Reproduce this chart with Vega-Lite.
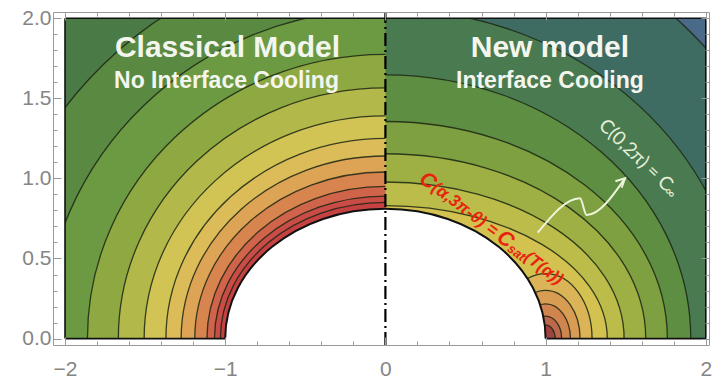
{
  "$schema": "https://vega.github.io/schema/vega-lite/v6.json",
  "width": 656,
  "height": 333,
  "autosize": {"type": "none"},
  "padding": {"left": 53, "top": 12, "right": 7, "bottom": 38},
  "background": "white",
  "config": {"view": {"stroke": null}},
  "datasets": {
    "regions": [
      {"band": "outer-left", "x": -2, "x2": 0, "y": 0, "y2": 2},
      {"band": "outer-right", "x": 0, "x2": 2, "y": 0, "y2": 2}
    ],
    "contours": [
      {"band": "right7", "cx": 0, "a": 2.7, "b": 2.7},
      {"band": "right6", "cx": 0, "a": 2.238, "b": 2.056},
      {"band": "right5", "cx": 0, "a": 1.906, "b": 1.646},
      {"band": "right4", "cx": 0, "a": 1.76, "b": 1.356},
      {"band": "right3", "cx": 0, "a": 1.625, "b": 1.153},
      {"band": "right2", "cx": 0, "a": 1.49, "b": 0.977},
      {"band": "right1", "cx": 0, "a": 1.385, "b": 0.83},
      {"band": "loop1", "cx": 1, "a": 0.29, "b": 0.406},
      {"band": "loop2", "cx": 1, "a": 0.215, "b": 0.301},
      {"band": "loop3", "cx": 1, "a": 0.155, "b": 0.217},
      {"band": "loop4", "cx": 1, "a": 0.1, "b": 0.14},
      {"band": "loop5", "cx": 1, "a": 0.06, "b": 0.084},
      {"band": "left11", "cx": 0, "a": 2.49, "b": 2.42},
      {"band": "left10", "cx": 0, "a": 2.135, "b": 2.055},
      {"band": "left9", "cx": 0, "a": 1.86, "b": 1.775},
      {"band": "left8", "cx": 0, "a": 1.667, "b": 1.565},
      {"band": "left7", "cx": 0, "a": 1.506, "b": 1.39},
      {"band": "left6", "cx": 0, "a": 1.37, "b": 1.25},
      {"band": "left5", "cx": 0, "a": 1.275, "b": 1.14},
      {"band": "left4", "cx": 0, "a": 1.19, "b": 1.04},
      {"band": "left3", "cx": 0, "a": 1.114, "b": 0.95},
      {"band": "left2", "cx": 0, "a": 1.067, "b": 0.89},
      {"band": "left1", "cx": 0, "a": 1.03, "b": 0.85}
    ],
    "hole": [{"cx": 0, "a": 1, "b": 0.81}],
    "margins": [
      {"x": -2.075, "x2": -2, "y": -0.04, "y2": 2.0387},
      {"x": -2.075, "x2": 2.02, "y": 2, "y2": 2.0387},
      {"x": 2, "x2": 2.02, "y": -0.04, "y2": 2.0387}
    ],
    "border": [
      {"x": -2, "y": 0, "x2": -2, "y2": 2},
      {"x": -2, "y": 2, "x2": 2, "y2": 2},
      {"x": 2, "y": 2, "x2": 2, "y2": 0},
      {"x": -2, "y": 0, "x2": -1, "y2": 0},
      {"x": 1, "y": 0, "x2": 2, "y2": 0}
    ],
    "symmetry": [{"x": 0, "y": -0.04, "x2": 0, "y2": 2.0387}],
    "arrow": [
      {"x": 0.9507, "y": 0.661},
      {"x": 1.2147, "y": 0.8758},
      {"x": 1.2566, "y": 0.7715},
      {"x": 1.4956, "y": 1.0006}
    ],
    "arrowhead": [{"x": 1.4956, "y": 1.0006}],
    "titles": [
      {"label": "Classical Model", "x": -0.986, "y": 1.76},
      {"label": "New model", "x": 1.027, "y": 1.76}
    ],
    "subtitles": [
      {"label": "No Interface Cooling", "x": -0.992, "y": 1.567},
      {"label": "Interface Cooling", "x": 1.027, "y": 1.567}
    ],
    "bcBig": [
      {"label": "C", "x": 0.2266, "y": 1.012},
      {"label": "C", "x": 0.7104, "y": 0.647}
    ],
    "bcText": [
      {"label": "(α,3π-θ) = ", "x": 0.3021, "y": 0.954},
      {"label": "(T(α))", "x": 0.8795, "y": 0.52}
    ],
    "bcSub": [{"label": "sat", "x": 0.7709, "y": 0.571}],
    "farText": [{"label": "C(0,2π) = C", "x": 1.352, "y": 1.35}],
    "farSub": [{"label": "∞", "x": 1.752, "y": 0.932}]
  },
  "layer": [
    {
      "data": {"name": "regions"},
      "mark": {"type": "rect"},
      "encoding": {
        "x": {
          "field": "x", "type": "quantitative",
          "scale": {"domain": [-2.075, 2.02], "nice": false, "zero": false},
          "axis": {
            "orient": "bottom",
            "values": [-2, -1.8, -1.6, -1.4, -1.2, -1, -0.8, -0.6, -0.4, -0.2, 0, 0.2, 0.4, 0.6, 0.8, 1, 1.2, 1.4, 1.6, 1.8, 2],
            "format": ".0f",
            "labelExpr": "abs(datum.value - round(datum.value)) < 0.001 ? datum.label : ''",
            "labelFont": "Liberation Sans", "labelFontSize": 21, "labelColor": "#858585",
            "labelPadding": 21, "labelFlush": false, "labelOverlap": false,
            "tickColor": "#9a9a9a", "tickWidth": 1,
            "tickSize": {"condition": {"test": "abs(datum.value - round(datum.value)) < 0.001", "value": -8}, "value": -4},
            "domainColor": "#9a9a9a", "domainWidth": 1, "grid": false, "title": null, "zindex": 1
          }
        },
        "x2": {"field": "x2"},
        "y": {
          "field": "y", "type": "quantitative",
          "scale": {"domain": [-0.04, 2.0387], "nice": false, "zero": false},
          "axis": {
            "orient": "left",
            "values": [0, 0.1, 0.2, 0.3, 0.4, 0.5, 0.6, 0.7, 0.8, 0.9, 1, 1.1, 1.2, 1.3, 1.4, 1.5, 1.6, 1.7, 1.8, 1.9, 2],
            "format": ".1f",
            "labelExpr": "abs(datum.value * 2 - round(datum.value * 2)) < 0.001 ? datum.label : ''",
            "labelFont": "Liberation Sans", "labelFontSize": 21, "labelColor": "#858585",
            "labelPadding": 10, "labelFlush": false, "labelOverlap": false,
            "tickColor": "#9a9a9a", "tickWidth": 1,
            "tickSize": {"condition": {"test": "abs(datum.value * 2 - round(datum.value * 2)) < 0.001", "value": -8}, "value": -4},
            "domainColor": "#9a9a9a", "domainWidth": 1, "grid": false, "title": null, "zindex": 1
          }
        },
        "y2": {"field": "y2"},
        "color": {
          "field": "band", "type": "nominal", "legend": null,
          "scale": {
            "domain": ["outer-left", "outer-right", "left1", "left2", "left3", "left4", "left5", "left6", "left7", "left8", "left9", "left10", "left11", "right1", "right2", "right3", "right4", "right5", "right6", "right7", "loop1", "loop2", "loop3", "loop4", "loop5"],
            "range": ["#4a7a46", "#4a6a8a", "#c64242", "#ca4c46", "#d0644a", "#d8844e", "#dca454", "#dcbc58", "#d2c454", "#b2b84a", "#8ea842", "#6c9a42", "#5a8a42", "#d4c250", "#bcbc4a", "#9eb044", "#7ea040", "#5e8e42", "#497a50", "#3f6c62", "#dab456", "#d89c52", "#d0844e", "#bc684a", "#a04440"]
          }
        }
      }
    },
    {
      "data": {"name": "contours"},
      "mark": {"type": "point", "filled": true, "opacity": 1, "strokeWidth": 0, "clip": true},
      "encoding": {
        "x": {"field": "cx", "type": "quantitative", "axis": null},
        "y": {"datum": 0, "type": "quantitative", "axis": null},
        "size": {
          "field": "a", "type": "quantitative", "legend": null,
          "scale": {"type": "pow", "exponent": 2, "domain": [0, 1], "range": [0, 102656]}
        },
        "shape": {
          "field": "band", "type": "nominal", "legend": null,
          "scale": {
            "domain": ["left1", "left2", "left3", "left4", "left5", "left6", "left7", "left8", "left9", "left10", "left11", "right1", "right2", "right3", "right4", "right5", "right6", "right7", "loop1", "loop2", "loop3", "loop4", "loop5"],
            "range": [
              "M 0 0 L -1 0 A 1 0.825 0 0 1 0 -0.825 Z",
              "M 0 0 L -1 0 A 1 0.834 0 0 1 0 -0.834 Z",
              "M 0 0 L -1 0 A 1 0.853 0 0 1 0 -0.853 Z",
              "M 0 0 L -1 0 A 1 0.874 0 0 1 0 -0.874 Z",
              "M 0 0 L -1 0 A 1 0.894 0 0 1 0 -0.894 Z",
              "M 0 0 L -1 0 A 1 0.912 0 0 1 0 -0.912 Z",
              "M 0 0 L -1 0 A 1 0.923 0 0 1 0 -0.923 Z",
              "M 0 0 L -1 0 A 1 0.939 0 0 1 0 -0.939 Z",
              "M 0 0 L -1 0 A 1 0.954 0 0 1 0 -0.954 Z",
              "M 0 0 L -1 0 A 1 0.963 0 0 1 0 -0.963 Z",
              "M 0 0 L -1 0 A 1 0.972 0 0 1 0 -0.972 Z",
              "M 0 0 L 0 -0.599 A 1 0.599 0 0 1 1 0 Z",
              "M 0 0 L 0 -0.656 A 1 0.656 0 0 1 1 0 Z",
              "M 0 0 L 0 -0.71 A 1 0.71 0 0 1 1 0 Z",
              "M 0 0 L 0 -0.77 A 1 0.77 0 0 1 1 0 Z",
              "M 0 0 L 0 -0.864 A 1 0.864 0 0 1 1 0 Z",
              "M 0 0 L 0 -0.919 A 1 0.919 0 0 1 1 0 Z",
              "M 0 0 L 0 -1 A 1 1 0 0 1 1 0 Z",
              "M -1 0 A 1 1.4 0 0 1 1 0 Z",
              "M -1 0 A 1 1.4 0 0 1 1 0 Z",
              "M -1 0 A 1 1.4 0 0 1 1 0 Z",
              "M -1 0 A 1 1.4 0 0 1 1 0 Z",
              "M -1 0 A 1 1.4 0 0 1 1 0 Z"
            ]
          }
        },
        "color": {"field": "band", "type": "nominal", "legend": null}
      }
    },
    {
      "data": {"name": "contours"},
      "mark": {"type": "point", "filled": false, "opacity": 1, "color": "#1c2614", "strokeOpacity": 0.85, "strokeWidth": 1.3, "clip": true},
      "encoding": {
        "x": {"field": "cx", "type": "quantitative", "axis": null},
        "y": {"datum": 0, "type": "quantitative", "axis": null},
        "size": {"field": "a", "type": "quantitative", "legend": null},
        "shape": {
          "field": "band", "type": "nominal", "legend": null,
          "scale": {
            "domain": ["left1", "left2", "left3", "left4", "left5", "left6", "left7", "left8", "left9", "left10", "left11", "right1", "right2", "right3", "right4", "right5", "right6", "right7", "loop1", "loop2", "loop3", "loop4", "loop5"],
            "range": [
              "M -1 0 A 1 0.825 0 0 1 0 -0.825",
              "M -1 0 A 1 0.834 0 0 1 0 -0.834",
              "M -1 0 A 1 0.853 0 0 1 0 -0.853",
              "M -1 0 A 1 0.874 0 0 1 0 -0.874",
              "M -1 0 A 1 0.894 0 0 1 0 -0.894",
              "M -1 0 A 1 0.912 0 0 1 0 -0.912",
              "M -1 0 A 1 0.923 0 0 1 0 -0.923",
              "M -1 0 A 1 0.939 0 0 1 0 -0.939",
              "M -1 0 A 1 0.954 0 0 1 0 -0.954",
              "M -1 0 A 1 0.963 0 0 1 0 -0.963",
              "M -1 0 A 1 0.972 0 0 1 0 -0.972",
              "M 0 -0.599 A 1 0.599 0 0 1 1 0",
              "M 0 -0.656 A 1 0.656 0 0 1 1 0",
              "M 0 -0.71 A 1 0.71 0 0 1 1 0",
              "M 0 -0.77 A 1 0.77 0 0 1 1 0",
              "M 0 -0.864 A 1 0.864 0 0 1 1 0",
              "M 0 -0.919 A 1 0.919 0 0 1 1 0",
              "M 0 -1 A 1 1 0 0 1 1 0",
              "M -1 0 A 1 1.4 0 0 1 1 0",
              "M -1 0 A 1 1.4 0 0 1 1 0",
              "M -1 0 A 1 1.4 0 0 1 1 0",
              "M -1 0 A 1 1.4 0 0 1 1 0",
              "M -1 0 A 1 1.4 0 0 1 1 0"
            ]
          }
        }
      }
    },
    {
      "data": {"name": "hole"},
      "mark": {"type": "point", "filled": true, "opacity": 1, "color": "white", "strokeWidth": 0, "shape": "M -1 0.03 L -1 0 A 1 0.81 0 0 1 1 0 L 1 0.03 Z", "clip": true},
      "encoding": {
        "x": {"field": "cx", "type": "quantitative", "axis": null},
        "y": {"datum": 0, "type": "quantitative", "axis": null},
        "size": {"field": "a", "type": "quantitative", "legend": null}
      }
    },
    {
      "data": {"name": "hole"},
      "mark": {"type": "point", "filled": false, "opacity": 1, "color": "#111111", "strokeWidth": 2, "shape": "M -1 0 A 1 0.81 0 0 1 1 0", "clip": true},
      "encoding": {
        "x": {"field": "cx", "type": "quantitative", "axis": null},
        "y": {"datum": 0, "type": "quantitative", "axis": null},
        "size": {"field": "a", "type": "quantitative", "legend": null}
      }
    },
    {
      "data": {"name": "margins"},
      "mark": {"type": "rect", "color": "white"},
      "encoding": {
        "x": {
          "field": "x", "type": "quantitative",
          "axis": {
            "orient": "top",
            "values": [-2, -1.8, -1.6, -1.4, -1.2, -1, -0.8, -0.6, -0.4, -0.2, 0, 0.2, 0.4, 0.6, 0.8, 1, 1.2, 1.4, 1.6, 1.8, 2],
            "labels": false,
            "tickColor": "#9a9a9a", "tickWidth": 1,
            "tickSize": {"condition": {"test": "abs(datum.value - round(datum.value)) < 0.001", "value": -8}, "value": -4},
            "domainColor": "#9a9a9a", "domainWidth": 1, "grid": false, "title": null, "zindex": 1
          }
        },
        "x2": {"field": "x2"},
        "y": {
          "field": "y", "type": "quantitative",
          "axis": {
            "orient": "right",
            "values": [0, 0.1, 0.2, 0.3, 0.4, 0.5, 0.6, 0.7, 0.8, 0.9, 1, 1.1, 1.2, 1.3, 1.4, 1.5, 1.6, 1.7, 1.8, 1.9, 2],
            "labels": false,
            "tickColor": "#9a9a9a", "tickWidth": 1,
            "tickSize": {"condition": {"test": "abs(datum.value * 2 - round(datum.value * 2)) < 0.001", "value": -8}, "value": -4},
            "domainColor": "#9a9a9a", "domainWidth": 1, "grid": false, "title": null, "zindex": 1
          }
        },
        "y2": {"field": "y2"}
      }
    },
    {
      "data": {"name": "border"},
      "mark": {"type": "rule", "color": "#111111", "strokeWidth": 1.6},
      "encoding": {
        "x": {"field": "x", "type": "quantitative", "axis": null},
        "x2": {"field": "x2"},
        "y": {"field": "y", "type": "quantitative", "axis": null},
        "y2": {"field": "y2"}
      }
    },
    {
      "data": {"name": "symmetry"},
      "mark": {"type": "rule", "color": "#000000", "strokeWidth": 2.2, "strokeDash": [13, 4, 2, 4]},
      "encoding": {
        "x": {"field": "x", "type": "quantitative", "axis": null},
        "x2": {"field": "x2"},
        "y": {"field": "y", "type": "quantitative", "axis": null},
        "y2": {"field": "y2"}
      }
    },
    {
      "data": {"name": "arrow"},
      "mark": {"type": "line", "color": "#eef4dc", "strokeWidth": 2, "interpolate": "monotone"},
      "encoding": {
        "x": {"field": "x", "type": "quantitative", "axis": null},
        "y": {"field": "y", "type": "quantitative", "axis": null}
      }
    },
    {
      "data": {"name": "arrowhead"},
      "mark": {"type": "point", "filled": false, "opacity": 1, "color": "#eef4dc", "strokeWidth": 2, "size": 400, "angle": 46, "shape": "M -0.45 0.9 L 0 0 L 0.45 0.9"},
      "encoding": {
        "x": {"field": "x", "type": "quantitative", "axis": null},
        "y": {"field": "y", "type": "quantitative", "axis": null}
      }
    },
    {
      "data": {"name": "titles"},
      "mark": {"type": "text", "font": "Liberation Sans", "fontSize": 30, "fontWeight": "bold", "color": "#f4f6ee", "align": "center", "baseline": "alphabetic"},
      "encoding": {
        "x": {"field": "x", "type": "quantitative", "axis": null},
        "y": {"field": "y", "type": "quantitative", "axis": null},
        "text": {"field": "label"}
      }
    },
    {
      "data": {"name": "subtitles"},
      "mark": {"type": "text", "font": "Liberation Sans", "fontSize": 23, "fontWeight": "bold", "color": "#f4f6ee", "align": "center", "baseline": "alphabetic"},
      "encoding": {
        "x": {"field": "x", "type": "quantitative", "axis": null},
        "y": {"field": "y", "type": "quantitative", "axis": null},
        "text": {"field": "label"}
      }
    },
    {
      "data": {"name": "bcBig"},
      "mark": {"type": "text", "font": "Liberation Sans", "fontSize": 21, "fontWeight": "bold", "fontStyle": "italic", "color": "#e8240f", "align": "left", "baseline": "middle", "angle": 37},
      "encoding": {
        "x": {"field": "x", "type": "quantitative", "axis": null},
        "y": {"field": "y", "type": "quantitative", "axis": null},
        "text": {"field": "label"}
      }
    },
    {
      "data": {"name": "bcText"},
      "mark": {"type": "text", "font": "Liberation Sans", "fontSize": 17, "fontWeight": "bold", "fontStyle": "italic", "color": "#e8240f", "align": "left", "baseline": "middle", "angle": 37},
      "encoding": {
        "x": {"field": "x", "type": "quantitative", "axis": null},
        "y": {"field": "y", "type": "quantitative", "axis": null},
        "text": {"field": "label"}
      }
    },
    {
      "data": {"name": "bcSub"},
      "mark": {"type": "text", "font": "Liberation Sans", "fontSize": 13, "fontWeight": "bold", "fontStyle": "italic", "color": "#e8240f", "align": "left", "baseline": "middle", "angle": 37},
      "encoding": {
        "x": {"field": "x", "type": "quantitative", "axis": null},
        "y": {"field": "y", "type": "quantitative", "axis": null},
        "text": {"field": "label"}
      }
    },
    {
      "data": {"name": "farText"},
      "mark": {"type": "text", "font": "Lato, Open Sans, sans-serif", "fontSize": 19, "color": "#e6efd8", "align": "left", "baseline": "middle", "angle": 44},
      "encoding": {
        "x": {"field": "x", "type": "quantitative", "axis": null},
        "y": {"field": "y", "type": "quantitative", "axis": null},
        "text": {"field": "label"}
      }
    },
    {
      "data": {"name": "farSub"},
      "mark": {"type": "text", "font": "Lato, Open Sans, sans-serif", "fontSize": 14, "color": "#e6efd8", "align": "left", "baseline": "middle", "angle": 44},
      "encoding": {
        "x": {"field": "x", "type": "quantitative", "axis": null},
        "y": {"field": "y", "type": "quantitative", "axis": null},
        "text": {"field": "label"}
      }
    }
  ],
  "resolve": {
    "axis": {"x": "independent", "y": "independent"},
    "scale": {"shape": "independent"}
  }
}
